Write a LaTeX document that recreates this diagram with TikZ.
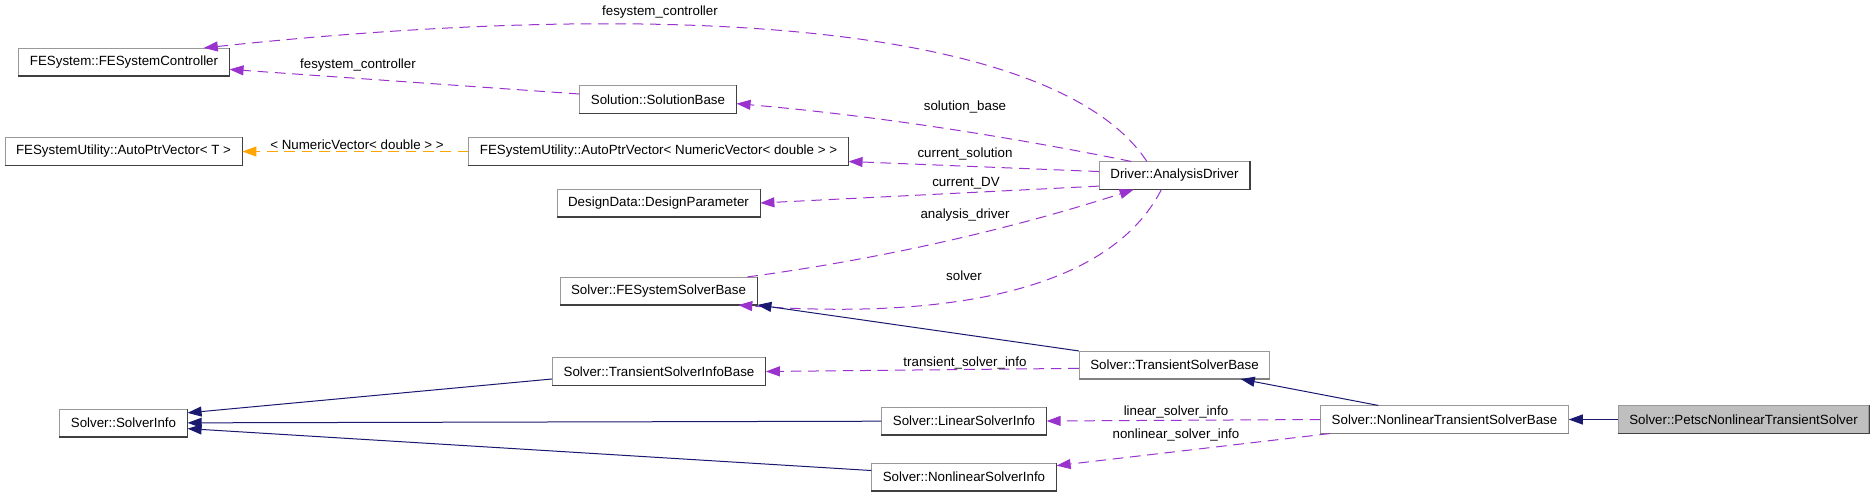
\documentclass[tikz,border=0pt]{standalone}
\usepackage{fontspec}
\setmainfont{Liberation Sans}
\usepackage{tikz}
\usetikzlibrary{arrows.meta}

\definecolor{edgepurple}{HTML}{9A32CD}
\definecolor{edgenavy}{HTML}{191970}
\definecolor{edgeorange}{HTML}{FFA500}
\definecolor{boxgrey}{HTML}{BFBFBF}

\begin{document}
\begin{tikzpicture}[
  x=0.75pt, y=-0.75pt,
  font=\fontsize{10}{12}\selectfont,
  cls/.style={draw=black!40, fill=white, line width=0.6pt, minimum height=20.5pt,
    inner xsep=8.3pt, inner ysep=0pt},
  hilite/.style={cls, fill=boxgrey},
  shade/.style={draw=black!75, line width=0.9pt},
  lbl/.style={inner sep=0pt},
  member/.style={draw=edgepurple, line width=0.75pt, dash pattern=on 8pt off 5pt,
    -{Triangle[length=10.5pt,width=7.5pt]}},
  inherit/.style={draw=edgenavy, line width=0.75pt, -{Triangle[length=10.5pt,width=7.5pt]}},
  tmpl/.style={draw=edgeorange, line width=0.75pt, dash pattern=on 8pt off 5pt,
    -{Triangle[length=10.5pt,width=7.5pt]}},
]
  \useasboundingbox (0,0) rectangle (1875,497);

  \node[cls] (fsc) at (124,62) {FESystem::FESystemController};
  \node[cls] (apvt) at (123.5,151.5) {FESystemUtility::AutoPtrVector< T >};
  \node[cls] (sinfo) at (123.5,423) {Solver::SolverInfo};
  \node[cls] (solbase) at (658,99.5) {Solution::SolutionBase};
  \node[cls] (apvnv) at (658.5,151.5) {FESystemUtility::AutoPtrVector< NumericVector< double > >};
  \node[cls] (dparam) at (658.5,203) {DesignData::DesignParameter};
  \node[cls] (fssb) at (658.5,291) {Solver::FESystemSolverBase};
  \node[cls] (tsib) at (659,371.5) {Solver::TransientSolverInfoBase};
  \node[cls] (lsinfo) at (964,421) {Solver::LinearSolverInfo};
  \node[cls] (nsinfo) at (964,477) {Solver::NonlinearSolverInfo};
  \node[cls] (driver) at (1174.5,175.5) {Driver::AnalysisDriver};
  \node[cls] (tsb) at (1174.5,365) {Solver::TransientSolverBase};
  \node[cls] (ntsb) at (1444.5,419.5) {Solver::NonlinearTransientSolverBase};
  \node[hilite] (petsc) at (1743.5,419.5) {Solver::PetscNonlinearTransientSolver};

  \foreach \n in {fsc,apvt,sinfo,solbase,apvnv,dparam,fssb,tsib,lsinfo,nsinfo,driver,petsc}{
    \draw[shade] (\n.north east) -- (\n.south east) -- (\n.south west);
  }
  \foreach \n in {tsb,ntsb}{
    \draw[shade, draw=black!50] (\n.south east) -- (\n.south west);
  }

  \draw[member] (driver.153) .. controls (1060,30) and (700,-5) .. (fsc.10);
  \draw[member] (solbase.176) -- (fsc.-4);
  \draw[member] (driver.162) .. controls (1001,135) and (868,115) .. (solbase.-3);
  \draw[member] (driver.177) -- (apvnv.-3);
  \draw[member] (driver.188) -- (dparam.east);
  \draw[member] (fssb.9) .. controls (874,260) and (1005,231) .. (driver.199);
  \draw[member] (driver.-133) .. controls (1110,290) and (950,320) .. (fssb.-10);
  \draw[inherit] (tsb.north west) -- (fssb.-8);
  \draw[member] (tsb.182) -- (tsib.east);
  \draw[inherit] (ntsb.168) -- (tsb.-12);
  \draw[member] (ntsb.west) -- (lsinfo.east);
  \draw[member] (ntsb.-173) -- (nsinfo.7);
  \draw[inherit] (petsc) -- (ntsb);
  \draw[inherit] (tsib.184) -- (sinfo.9);
  \draw[inherit] (lsinfo) -- (sinfo);
  \draw[inherit] (nsinfo.176) -- (sinfo.-5);
  \draw[tmpl] (apvnv) -- (apvt);

  \node[lbl] (l-ctrl1) at (660,12) {fesystem\_controller};
  \node[lbl] (l-ctrl2) at (358,65) {fesystem\_controller};
  \node[lbl] (l-base) at (965,107) {solution\_base};
  \node[lbl] (l-cursol) at (965,154) {current\_solution};
  \node[lbl] (l-curdv) at (966,183) {current\_DV};
  \node[lbl] (l-drv) at (965,215) {analysis\_driver};
  \node[lbl] (l-solver) at (964,276) {solver};
  \node[lbl] (l-tsinfo) at (965,363) {transient\_solver\_info};
  \node[lbl] (l-linfo) at (1176,412) {linear\_solver\_info};
  \node[lbl] (l-ninfo) at (1176,435) {nonlinear\_solver\_info};
  \node[lbl] (l-tmpl) at (357,145) {< NumericVector< double > >};
\end{tikzpicture}
\end{document}
